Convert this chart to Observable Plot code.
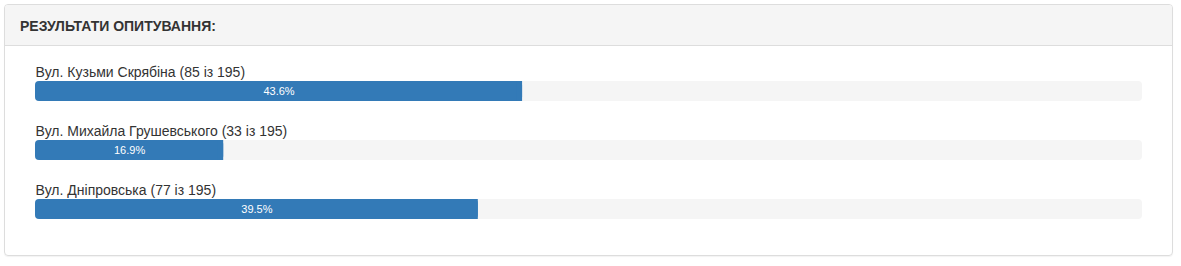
<!DOCTYPE html>
<html>
<head>
<meta charset="utf-8">
<script src="https://cdn.jsdelivr.net/npm/d3@7"></script>
<script src="https://cdn.jsdelivr.net/npm/@observablehq/plot@0.6"></script>
<style>
  html, body { margin: 0; padding: 0; background: #fff; width: 1181px; height: 266px; overflow: hidden; font-family: "Liberation Sans", Arial, sans-serif; }
  #panel { position: absolute; left: 4px; top: 4px; width: 1167px; height: 250px; border: 1px solid #ddd; border-radius: 4px; box-shadow: 0 1px 1px rgba(0,0,0,0.05); }
  #head { position: absolute; left: 0; top: 0; right: 0; height: 40px; background: #f5f5f5; border-bottom: 1px solid #ddd; border-radius: 3px 3px 0 0; }
  #title { position: absolute; left: 15px; top: 13px; font-weight: bold; font-size: 14px; color: #333; line-height: 16px; }
  #chart { position: absolute; left: 0; top: 0; }
</style>
</head>
<body>
<div id="panel"><div id="head"><div id="title">РЕЗУЛЬТАТИ ОПИТУВАННЯ:</div></div></div>
<div id="chart"></div>
<script>
const names = ["Вул. Кузьми Скрябіна", "Вул. Михайла Грушевського", "Вул. Дніпровська"];
const votes = [85, 33, 77];
const total = 195;
const percents = [43.6, 16.9, 39.5];

const rows = names.map((n, i) => ({name: n, votes: votes[i], pct: percents[i]}));

const chart = Plot.plot({
  width: 1181,
  height: 266,
  style: {background: "transparent", fontFamily: "'Liberation Sans', Arial, sans-serif"},
  x: {domain: [0, 100], range: [35, 1142], axis: null},
  y: {type: "band", domain: names, range: [81, 221], paddingInner: 2/3, paddingOuter: 0, align: 0, axis: null},
  marks: [
    Plot.barX(rows, {x1: 0, x2: 100, y: "name", fill: "#f5f5f5", rx: 4}),
    Plot.barX(rows, {x1: 0, x2: d => Math.round(d.pct), y: "name", fill: "#337ab7", rx: 4}),
    Plot.barX(rows, {x1: d => Math.round(d.pct) - 0.5, x2: d => Math.round(d.pct), y: "name", fill: "#337ab7"}),
    Plot.text(rows, {x: 0, y: "name", text: d => `${d.name} (${d.votes} із ${total})`, textAnchor: "start", dy: -19, fontSize: 14, fill: "#333"}),
    Plot.text(rows, {x: d => Math.round(d.pct) / 2, y: "name", text: d => `${d.pct}%`, fill: "#fff", fontSize: 11})
  ]
});
document.getElementById("chart").appendChild(chart);
</script>
</body>
</html>
